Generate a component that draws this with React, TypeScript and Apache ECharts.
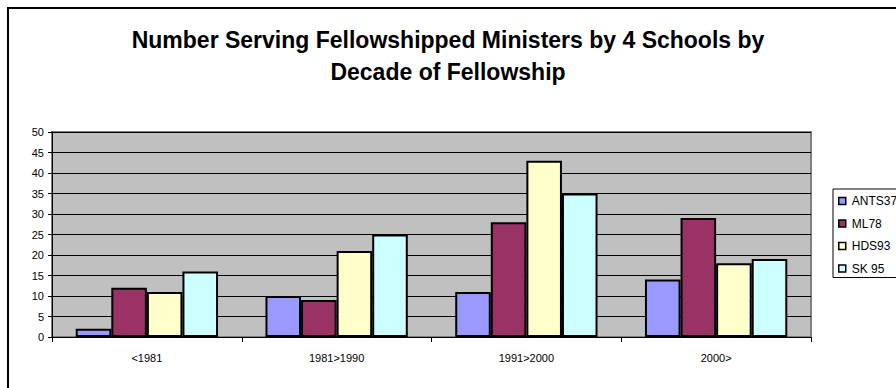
import React, { useEffect, useRef } from "react";
import * as echarts from "echarts";

const categories = ["<1981", "1981>1990", "1991>2000", "2000>"];
const seriesNames = ["ANTS37", "ML78", "HDS93", "SK 95"];
const ants = [2, 10, 11, 14];
const ml = [12, 9, 28, 29];
const hds = [11, 21, 43, 18];
const sk = [16, 25, 35, 19];
const seriesValues = [ants, ml, hds, sk];
const colors = ["#9999FF", "#993366", "#FFFFCC", "#CCFFFF"];
const titleText = "Number Serving Fellowshipped Ministers by 4 Schools by\nDecade of Fellowship";

const FONT = 'Arial, "Liberation Sans", sans-serif';

export default function App() {
  const ref = useRef<HTMLDivElement>(null);
  useEffect(() => {
    if (!ref.current) return;
    const chart = echarts.init(ref.current, undefined, { renderer: "svg" });
    chart.setOption({
      animation: false,
      backgroundColor: "#ffffff",
      graphic: [
        {
          type: "text",
          x: 448,
          y: 24,
          style: {
            text: titleText,
            fontFamily: FONT,
            fontWeight: "bold",
            fontSize: 23,
            lineHeight: 32,
            fill: "#000",
            align: "center",
            verticalAlign: "top",
          },
          silent: true,
        },
        {
          type: "rect",
          shape: { x: 8, y: 8, width: 1000, height: 1000 },
          style: { fill: "none", stroke: "#000", lineWidth: 2 },
          silent: true,
          z: 100,
        },
      ],
      legend: {
        orient: "vertical",
        left: 833,
        top: 189,
        padding: [6, 8, 3, 5],
        itemGap: 10.5,
        itemWidth: 7,
        itemHeight: 7,
        icon: "rect",
        borderColor: "#000",
        borderWidth: 1,
        backgroundColor: "#fff",
        itemStyle: { borderColor: "#000", borderWidth: 1.5 },
        textStyle: { fontFamily: FONT, fontSize: 12, color: "#000", padding: [0, 0, 0, 1] },
        data: seriesNames,
      },
      grid: {
        left: 52,
        right: 85,
        top: 132,
        bottom: 51,
        show: true,
        backgroundColor: "#C0C0C0",
        borderColor: "#808080",
        borderWidth: 2,
      },
      xAxis: {
        type: "category",
        data: categories,
        axisLine: { lineStyle: { color: "#000", width: 1 } },
        axisTick: { show: true, length: 5, lineStyle: { color: "#000" } },
        axisLabel: { fontFamily: FONT, fontSize: 11, color: "#000", margin: 15 },
        splitLine: { show: false },
      },
      yAxis: {
        type: "value",
        min: 0,
        max: 50,
        interval: 5,
        axisLine: { show: true, lineStyle: { color: "#000", width: 1 } },
        axisTick: { show: true, length: 4, lineStyle: { color: "#000" } },
        axisLabel: { fontFamily: FONT, fontSize: 11, color: "#000", margin: 8 },
        splitLine: { show: true, lineStyle: { color: "#000", width: 1 } },
      },
      series: seriesNames.map((name, i) => ({
        name,
        type: "bar",
        data: seriesValues[i],
        barGap: "0%",
        barCategoryGap: "25%",
        itemStyle: { color: colors[i], borderColor: "#000", borderWidth: 2 },
      })),
    });
    return () => chart.dispose();
  }, []);
  return (
    <div
      ref={ref}
      style={{ position: "absolute", left: 0, top: 0, width: 896, height: 388 }}
    />
  );
}
